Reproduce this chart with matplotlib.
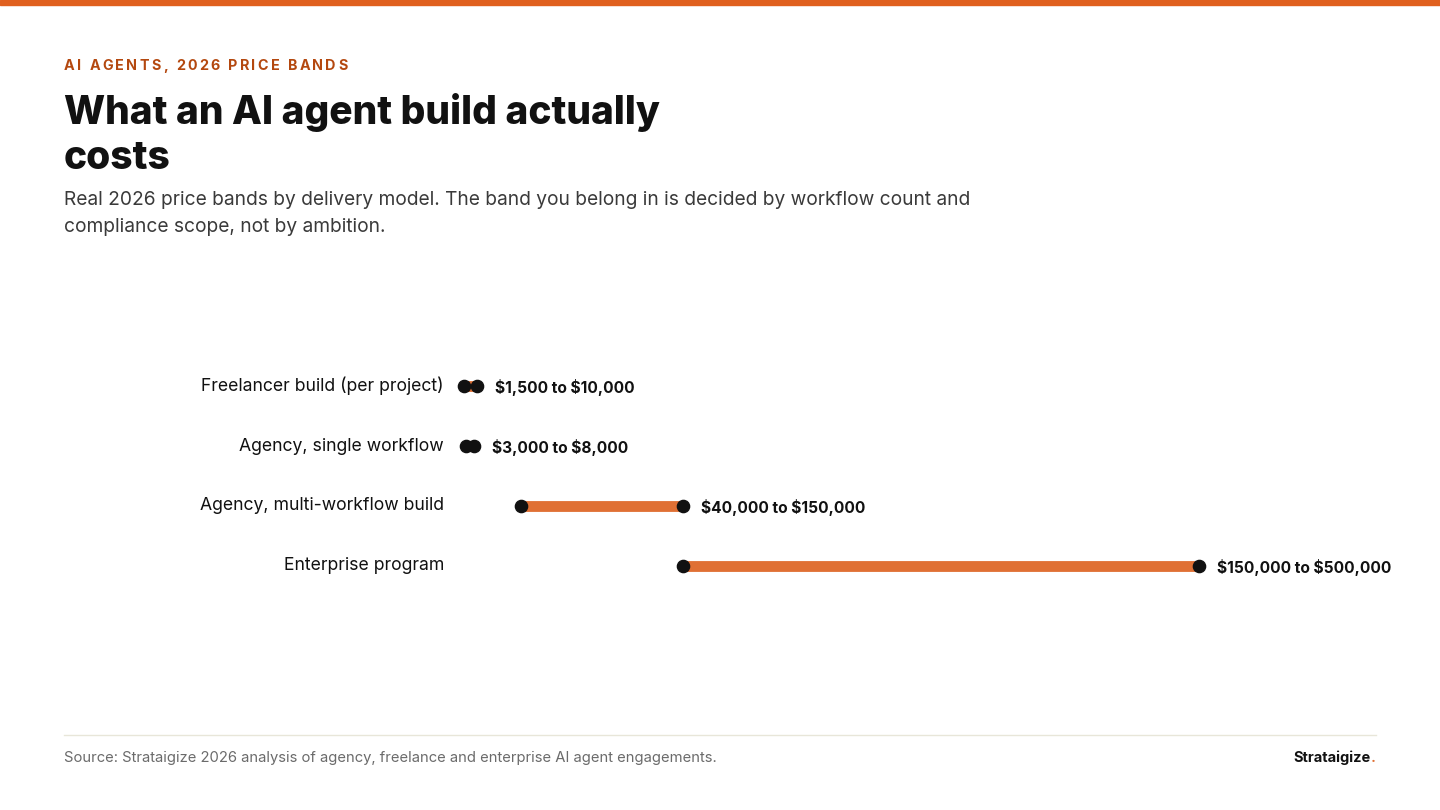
import matplotlib
matplotlib.use("Agg")
import matplotlib.pyplot as plt
import matplotlib.transforms as mtransforms
from matplotlib.patches import Rectangle
from matplotlib.lines import Line2D

plt.rcParams["text.parse_math"] = False

# ---- data ----
categories = ["Freelancer build (per project)", "Agency, single workflow",
              "Agency, multi-workflow build", "Enterprise program"]
low_values = [1500, 3000, 40000, 150000]
high_values = [10000, 8000, 150000, 500000]
value_labels = ["$1,500 to $10,000", "$3,000 to $8,000",
                "$40,000 to $150,000", "$150,000 to $500,000"]

eyebrow = "AI AGENTS, 2026 PRICE BANDS"
title_lines = ["What an AI agent build actually", "costs"]
subtitle_lines = ["Real 2026 price bands by delivery model. The band you belong in is decided by workflow count and",
                  "compliance scope, not by ambition."]
source = "Source: Strataigize 2026 analysis of agency, freelance and enterprise AI agent engagements."
brand = "Strataigize"

ORANGE = "#E07034"
TOPBAR = "#E0601F"
EYEBROW = "#B4480F"
DARK = "#111111"
FONT = "Inter"

W, H = 1440, 810
fig = plt.figure(figsize=(W / 100, H / 100), dpi=100)
fig.patch.set_facecolor("white")

def fx(px):
    return px / W

def fy(py):
    return 1 - py / H

# top bar
fig.patches.append(Rectangle((0, fy(5)), 1, 5 / H, transform=fig.transFigure,
                             color=TOPBAR, zorder=0))

renderer = fig.canvas.get_renderer()

# eyebrow with tracking
x = 64
for ch in eyebrow:
    t = fig.text(fx(x), fy(66), ch, fontsize=10.3, fontweight="bold", color=EYEBROW,
                 family=FONT, ha="left", va="center")
    bb = t.get_window_extent(renderer)
    if ch == " ":
        adv = 4.0
    else:
        adv = bb.width
    x += adv + 2.25

# title
for ln, base in zip(title_lines, [124, 169]):
    fig.text(fx(64), fy(base), ln, fontsize=28.0, fontweight="heavy", color=DARK,
             family=FONT, ha="left", va="baseline")

# subtitle
fig.text(fx(64), fy(200), subtitle_lines[0], fontsize=13.8, color="#3a3a3a",
         family=FONT, ha="left", va="center")
fig.text(fx(64), fy(227), subtitle_lines[1], fontsize=13.8, color="#3a3a3a",
         family=FONT, ha="left", va="center")

# chart axes: x 0..500000 maps to px 462..1199, rows at 386..566
ax = fig.add_axes([fx(462), fy(596), (1199 - 462) / W, 240 / H])
ax.set_xlim(0, 500000)
ax.set_ylim(len(categories) - 0.5, -0.5)
ax.axis("off")

for i, (lo, hi) in enumerate(zip(low_values, high_values)):
    ax.plot([lo, hi], [i, i], color=ORANGE, lw=7.8, solid_capstyle="butt",
            clip_on=False, zorder=2)
    ax.plot([lo, hi], [i, i], linestyle="none", marker="o", markersize=8.8,
            color=DARK, clip_on=False, zorder=3)
    ax.annotate(value_labels[i], xy=(hi, i), xytext=(18, -1), textcoords="offset pixels",
                ha="left", va="center", fontsize=11.2, fontweight="bold",
                color=DARK, family=FONT, annotation_clip=False)

lab_tr = mtransforms.blended_transform_factory(fig.transFigure, ax.transData)
for i, c in enumerate(categories):
    fig.text(fx(444), i, c, transform=lab_tr, ha="right", va="center",
             fontsize=12.7, color=DARK, family=FONT)

# footer
fig.lines.append(Line2D([fx(64), fx(1376)], [fy(735), fy(735)], transform=fig.transFigure,
                        color="#E8E6D9", lw=1.0))
fig.text(fx(64), fy(758), source, fontsize=10.65, color="#6b6b6b", family=FONT,
         ha="left", va="center")
dot = fig.text(fx(1376), fy(758), ".", fontsize=10.5, fontweight="bold", color=ORANGE,
               family=FONT, ha="right", va="center")
dbb = dot.get_window_extent(renderer)
fig.text(fx(1376) - dbb.width / W, fy(758), brand, fontsize=10.5, fontweight="bold",
         color=DARK, family=FONT, ha="right", va="center")

fig.savefig("out.png", dpi=100, facecolor="white")
